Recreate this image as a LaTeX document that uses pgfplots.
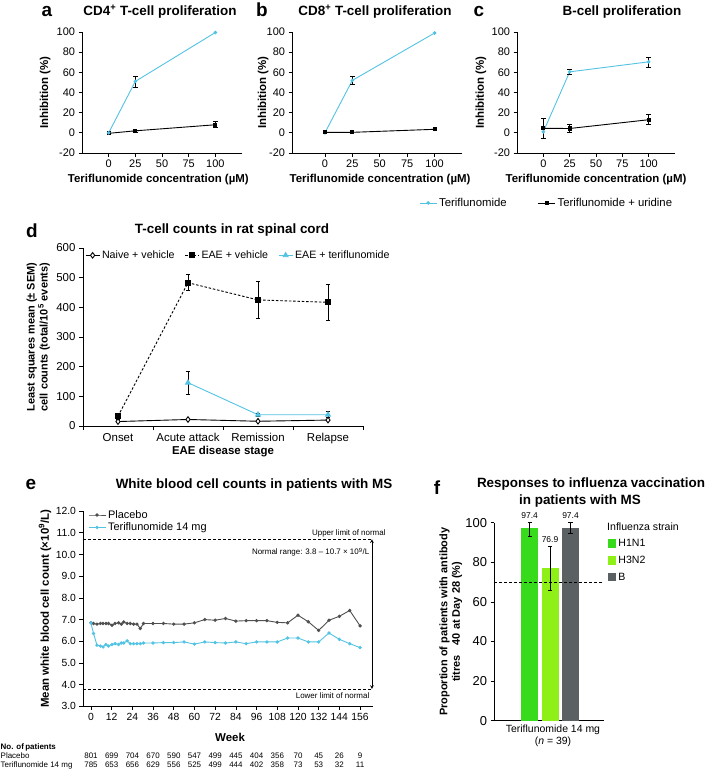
\documentclass[border=0pt]{standalone}
\usepackage{pgfplots}
\pgfplotsset{compat=1.18}
\usepackage{fontspec}
\setmainfont{Liberation Sans}
\setsansfont{Liberation Sans}
\definecolor{cy}{HTML}{52C3E3}
\definecolor{pg}{HTML}{4F4F4F}
\definecolor{gA}{HTML}{38DB1C}
\definecolor{gB}{HTML}{8EF016}
\definecolor{gC}{HTML}{5B6063}
\begin{document}
\begin{tikzpicture}
\path[use as bounding box] (0bp,0bp) rectangle (710bp,-770bp);
\pgfplotsset{
 base/.style={scale only axis, axis lines*=left, tick align=outside,
   /pgf/number format/assume math mode=true,
   axis line style={black, line width=0.7pt},
   tick style={black, line width=0.7pt},
   major tick length=3.5bp, minor tick length=4bp,
   tick label style={font=\fontsize{11}{13}\selectfont},
   label style={font=\bfseries\fontsize{11.5}{13}\selectfont},
   clip=false, legend cell align=left},
 ebarp/.style={draw=none, mark=none, forget plot,
   /pgfplots/error bars/y dir=both, /pgfplots/error bars/y explicit,
   /pgfplots/error bars/error bar style={draw=black, line width=0.6pt, solid},
   /pgfplots/error bars/error mark options={rotate=90, draw=black, mark size=2.2bp, line width=0.6pt, solid}},
 cyl/.style={cy, line width=0.9pt, mark=*, mark size=1.3bp},
 bkl/.style={black, line width=0.9pt, mark=square*, mark size=1.6bp},
 abc/.style={base, height=121bp, xmin=-25, xmax=125, ymin=-20, ymax=100,
   xtick={0,25,50,75,100}, ytick={-20,0,20,40,60,80,100},
   xlabel={Teriflunomide concentration (µM)}, ylabel={Inhibition (\%)}},
}
% ---------- titles ----------
\tikzset{lett/.style={font=\bfseries\fontsize{19}{19}\selectfont, inner sep=0pt},
         ttl/.style={font=\bfseries\fontsize{13.5}{15}\selectfont, inner sep=0pt}}
\node[lett] at (47bp,-11.7bp) {a};
\node[ttl] at (160bp,-12bp) {CD4\textsuperscript{+} T-cell proliferation};
\node[lett] at (262bp,-10bp) {b};
\node[ttl] at (375bp,-12bp) {CD8\textsuperscript{+} T-cell proliferation};
\node[lett] at (479bp,-11.7bp) {c};
\node[ttl] at (622bp,-12bp) {B-cell proliferation};
\node[lett] at (32bp,-231bp) {d};
\node[ttl] at (232bp,-230bp) {T-cell counts in rat spinal cord};
\node[lett] at (31bp,-484bp) {e};
\node[ttl] at (254bp,-485bp) {White blood cell counts in patients with MS};
\node[lett] at (437bp,-488bp) {f};
\node[ttl] at (591bp,-484bp) {Responses to influenza vaccination};
\node[ttl] at (580bp,-501bp) {in patients with MS};

% ---------- a ----------
\begin{axis}[abc, at={(82bp,-153bp)}, anchor=south west, width=160bp,
 xlabel style={at={(axis description cs:0.477,-0.223)}, anchor=center},
 ylabel style={at={(axis description cs:-0.231,0.5)}, anchor=center}]
\addplot[bkl] coordinates {(0,-0.5) (25,2) (100,8)};
\addplot[cyl] coordinates {(0,0) (25,51) (100,99.5)};
\addplot[ebarp] coordinates {(25,51) +- (0,5.5) (25,2) +- (0,1) (100,8) +- (0,3)};
\end{axis}
% ---------- b ----------
\begin{axis}[abc, at={(292bp,-153bp)}, anchor=south west, width=170bp, xmin=-30,
 xlabel style={at={(axis description cs:0.518,-0.223)}, anchor=center},
 ylabel style={at={(axis description cs:-0.17,0.5)}, anchor=center}]
\addplot[cyl] coordinates {(0,0) (25,52) (100,99)};
\addplot[bkl] coordinates {(0,0.5) (25,0.5) (100,3.5)};
\addplot[ebarp] coordinates {(25,52) +- (0,4)};
\end{axis}
% ---------- c ----------
\begin{axis}[abc, at={(517bp,-153bp)}, anchor=south west, width=158bp,
 xlabel style={at={(axis description cs:0.5,-0.223)}, anchor=center},
 ylabel style={at={(axis description cs:-0.228,0.5)}, anchor=center},
 legend columns=2,
 legend style={at={(axis description cs:-0.62,-0.413)}, anchor=west, draw=none, fill=none,
   inner sep=0pt, font=\fontsize{11.4}{13}\selectfont,
   /tikz/every even column/.append style={column sep=29bp}}]
\addplot[cyl] coordinates {(0,1) (25,60.5) (100,70.4)};
\addlegendentry{Teriflunomide}
\addplot[bkl] coordinates {(0,4.5) (25,4.3) (100,13)};
\addlegendentry{Teriflunomide + uridine}
\addplot[ebarp] coordinates {(25,60.5) +- (0,2.5) (100,70.4) +- (0,5) (0,4.5) +- (0,10) (25,4.3) +- (0,4) (100,13) +- (0,5)};
\end{axis}

% ---------- d ----------
\begin{axis}[base, at={(83bp,-426bp)}, anchor=south west, width=280bp, height=178bp,
 xmin=0, xmax=4, ymin=0, ymax=600, ytick={0,100,...,600},
 tick label style={font=\fontsize{11.5}{13}\selectfont},
 xtick={0,1,2,3,4}, x tick label as interval,
 xticklabels={Onset,Acute attack,Remission,Relapse},
 major tick length=4bp,
 xlabel={EAE disease stage},
 xlabel style={at={(axis description cs:0.5,-0.146)}, anchor=center},
 ylabel={Least squares mean (± SEM)\\cell counts (total/10\textsuperscript{5} events)},
 ylabel style={align=center, at={(axis description cs:-0.16,0.5)}, anchor=center, font=\bfseries\fontsize{11}{13}\selectfont},
 legend columns=3,
 legend style={at={(axis description cs:0.007,0.997)}, anchor=north west, draw=none, fill=none,
   inner sep=0pt, font=\fontsize{10.7}{12}\selectfont,
   /tikz/every even column/.append style={column sep=8bp}},
 legend image code/.code={\draw[mark repeat=2,mark phase=2,#1] plot coordinates {(0bp,0bp)(7bp,0bp)(14bp,0bp)};}]
\addplot[black, line width=0.9pt, mark=diamond*, mark options={fill=white, solid}, mark size=2.8bp] coordinates {(0.5,15) (1.5,22) (2.5,16) (3.5,20)};
\addlegendentry{Naive + vehicle}
\addplot[black, line width=0.9pt, dash pattern=on 2.5bp off 1.8bp, mark=square*, mark options={solid}, mark size=2.4bp] coordinates {(0.5,33) (1.5,483) (2.5,425) (3.5,417)};
\addlegendentry{EAE + vehicle}
\addplot[cy, line width=0.9pt, mark=triangle*, mark size=2.8bp] coordinates {(1.5,146) (2.5,38) (3.5,38)};
\addlegendentry{EAE + teriflunomide}
\addplot[ebarp] coordinates {(0.5,33) +- (0,10) (1.5,483) +- (0,27) (2.5,425) +- (0,62) (3.5,417) +- (0,60) (1.5,146) +- (0,40) (2.5,38) +- (0,5) (3.5,38) +- (0,10)};
\end{axis}

% ---------- e ----------
\begin{axis}[base, at={(83bp,-706.4bp)}, anchor=south west, width=290bp, height=195.4bp,
 xmin=-4.6, xmax=163.5, ymin=3, ymax=12, ytick={3,4,...,12}, xtick={0,12,...,156},
 tick label style={font=\fontsize{10.4}{12}\selectfont},
 yticklabel style={/pgf/number format/.cd, fixed, fixed zerofill, precision=1},
 xlabel={Week},
 xlabel style={at={(axis description cs:0.507,-0.157)}, anchor=center},
 ylabel={Mean white blood cell count (×10\textsuperscript{9}/L)},
 ylabel style={at={(axis description cs:-0.131,0.5)}, anchor=center},
 legend style={at={(axis description cs:0.017,1.015)}, anchor=north west, draw=none, fill=none,
   inner sep=0pt, row sep=-1bp, font=\fontsize{11}{13}\selectfont}]
\addplot[pg, line width=0.9pt, mark=*, mark size=1.2bp] coordinates {
(0,6.85) (1.5,6.82) (3.5,6.79) (5.5,6.82) (7,6.82) (8.7,6.82) (10.2,6.82) (12.2,6.74) (14,6.82) (16,6.85) (17.6,6.79) (19,6.89) (21,6.82) (22.8,6.82) (24.7,6.79) (26.7,6.79) (28.6,6.59) (30.5,6.82) (36,6.82) (42,6.82) (48,6.79) (54,6.79) (60,6.85) (66,7.0) (72,6.97) (78,7.05) (84,6.93) (90,6.95) (96,6.95) (102,6.95) (108,6.87) (114,6.85) (120,7.2) (126,6.9) (132,6.5) (138,6.97) (144,7.15) (150,7.42) (156,6.71)};
\addlegendentry{Placebo}
\addplot[cy, line width=0.9pt, mark=*, mark size=1.2bp] coordinates {
(0,6.85) (1.5,6.36) (3.5,5.82) (5.5,5.78) (7,5.74) (8.7,5.85) (10.2,5.78) (12.2,5.85) (14,5.89) (16,5.85) (17.6,5.92) (19,5.92) (21,6.02) (22.8,5.89) (24.7,5.89) (26.7,5.89) (28.6,5.89) (30.5,5.92) (36,5.92) (42,5.94) (48,5.94) (54,5.97) (60,5.87) (66,5.97) (72,5.94) (78,5.92) (84,5.97) (90,5.89) (96,5.97) (102,5.97) (108,5.97) (114,6.15) (120,6.15) (126,5.97) (132,5.97) (138,6.38) (144,6.09) (150,5.89) (156,5.71)};
\addlegendentry{Teriflunomide 14 mg}
\addplot[black, line width=0.8pt, dash pattern=on 3bp off 2bp, forget plot] coordinates {(-4.6,10.7) (162.9,10.7)};
\addplot[black, line width=0.8pt, dash pattern=on 3bp off 2bp, forget plot] coordinates {(-4.6,3.8) (162.9,3.8)};
\addplot[black, line width=0.7pt, <->, >=stealth, forget plot] coordinates {(162.9,10.7) (162.9,3.8)};
\node[anchor=south east, inner sep=1bp, font=\fontsize{8}{9}\selectfont] at (axis cs:171.5,10.72) {Upper limit of normal};
\node[anchor=east, inner sep=0pt, font=\fontsize{8}{9}\selectfont] at (axis cs:161.5,10.1) {Normal range: 3.8 – 10.7 × 10\textsuperscript{9}/L};
\node[anchor=east, inner sep=0pt, font=\fontsize{8}{9}\selectfont] at (axis cs:161.5,3.48) {Lower limit of normal};
\end{axis}
% table
\node[anchor=west, inner sep=0.5bp, font=\bfseries\fontsize{8}{9}\selectfont] at (0bp,-747bp) {No. of\,patients};
\node[anchor=west, inner sep=0.5bp, font=\fontsize{8}{9}\selectfont] at (0bp,-756bp) {Placebo};
\node[anchor=west, inner sep=0.5bp, font=\fontsize{8}{9}\selectfont] at (0bp,-765bp) {Teriflunomide 14 mg};
\foreach \x/\p/\t in {91/801/785, 111.7/699/653, 132.4/704/656, 153.1/670/629, 173.8/590/556, 194.5/547/525, 215.2/499/499, 235.9/445/444, 256.6/404/402, 277.3/356/358, 298/70/73, 318.7/45/53, 339.4/26/32, 360.1/9/11} {
 \node[inner sep=0pt, font=\fontsize{8}{9}\selectfont] at (\x bp,-756bp) {\p};
 \node[inner sep=0pt, font=\fontsize{8}{9}\selectfont] at (\x bp,-765bp) {\t};
}

% ---------- f ----------
\node[anchor=west, inner sep=0pt, font=\fontsize{10.6}{12}\selectfont] at (607bp,-527bp) {Influenza strain};
\begin{axis}[base, at={(494bp,-720.7bp)}, anchor=south west, width=110bp, height=198bp,
 xmin=0, xmax=110, ymin=0, ymax=100, ytick={0,20,...,100},
 tick label style={font=\fontsize{13}{15}\selectfont},
 xtick=\empty,
 xlabel={Teriflunomide 14 mg\\(\textit{n} = 39)},
 xlabel style={font=\fontsize{10.5}{12}\selectfont, align=center, at={(axis description cs:0.536,-0.077)}, anchor=center},
 ylabel={\begin{tabular}{@{}c@{}}Proportion of patients with antibody\\titres\kern0.9em 40 at Day 28 (\%)\end{tabular}},
 ylabel style={at={(axis description cs:-0.39,0.5)}, anchor=center, font=\bfseries\fontsize{11}{12.5}\selectfont},
 legend style={at={(axis description cs:1.036,0.928)}, anchor=north west, draw=none, fill=none,
   inner sep=0pt, row sep=4bp, font=\fontsize{10.6}{12}\selectfont},
 legend image code/.code={\fill[#1] (0bp,-4.2bp) rectangle (8.3bp,4.2bp);}]
\addplot[ybar, bar width=17bp, bar shift=0pt, fill=gA, draw=none] coordinates {(35.7,97.4)};
\addlegendentry{H1N1}
\addplot[ybar, bar width=17bp, bar shift=0pt, fill=gB, draw=none] coordinates {(56,76.9)};
\addlegendentry{H3N2}
\addplot[ybar, bar width=17bp, bar shift=0pt, fill=gC, draw=none] coordinates {(76.5,97.4)};
\addlegendentry{B}
\addplot[black, line width=0.8pt, dash pattern=on 3bp off 2bp, forget plot] coordinates {(0,70) (110,70)};
\addplot[ebarp] coordinates {(35.7,97.4) += (0,2.6) -= (0,4.4) (56,76.9) += (0,11) -= (0,11) (76.5,97.4) += (0,2.6) -= (0,3)};
\node[font=\fontsize{8.5}{9}\selectfont, inner sep=0pt] at (axis cs:35.7,103.4) {97.4};
\node[font=\fontsize{8.5}{9}\selectfont, inner sep=0pt] at (axis cs:56,91.5) {76.9};
\node[font=\fontsize{8.5}{9}\selectfont, inner sep=0pt] at (axis cs:76.5,103.4) {97.4};
\end{axis}
\end{tikzpicture}
\end{document}
